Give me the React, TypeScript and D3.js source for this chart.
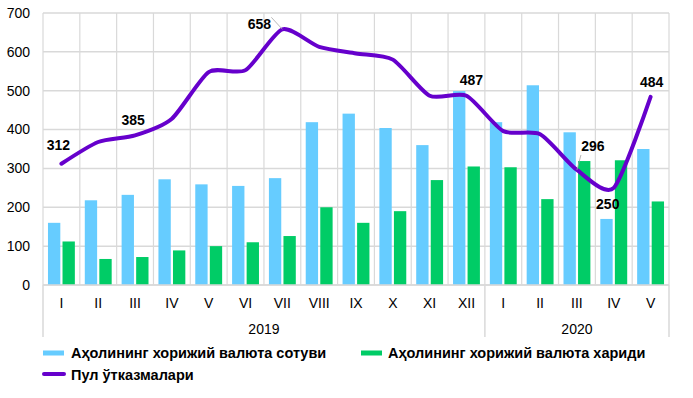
import React from 'react';
import * as d3 from 'd3';

// monthly data, Jan 2019 - May 2020
const months = ['I', 'II', 'III', 'IV', 'V', 'VI', 'VII', 'VIII', 'IX', 'X', 'XI', 'XII', 'I', 'II', 'III', 'IV', 'V'];
const years = [
  { label: '2019', from: 0, to: 12 },
  { label: '2020', from: 12, to: 17 },
];
const sales = [160, 218, 232, 272, 259, 255, 275, 419, 441, 404, 360, 499, 419, 514, 393, 170, 350];
const purchases = [112, 67, 72, 89, 100, 110, 126, 200, 160, 190, 270, 305, 303, 221, 319, 321, 215];
const transfers = [312, 368, 385, 428, 548, 553, 658, 613, 596, 580, 487, 487, 396, 388, 296, 250, 484];
const yTicks = [0, 100, 200, 300, 400, 500, 600, 700];
const seriesNames = ['Аҳолининг хорижий валюта сотуви', 'Аҳолининг хорижий валюта хариди', 'Пул ўтказмалари'];

// which points get a value label, and where the label sits relative to the point
const labelled = [
  { i: 0, dx: -3, dy: -14 },
  { i: 2, dx: -2, dy: -10 },
  { i: 6, dx: -23, dy: 0 },
  { i: 11, dx: 5, dy: -11 },
  { i: 14, dx: 16, dy: -19 },
  { i: 15, dx: -6, dy: 21 },
  { i: 16, dx: 1, dy: -10 },
];

const W = 693;
const H = 398;
const margin = { top: 13, left: 43, right: 24, bottom: 113 };
const font = '"Liberation Sans", Arial, sans-serif';
const blue = '#66CCFF';
const green = '#00CC66';
const purple = '#6600CC';
const grid = '#d9d9d9';

const App = () => {
  const x0 = margin.left;
  const x1 = W - margin.right;
  const yBottom = H - margin.bottom;

  const x = d3.scaleBand<number>()
    .domain(months.map((_, i) => i))
    .range([x0, x1]);

  const y = d3.scaleLinear()
    .domain([0, 700])
    .range([yBottom, margin.top]);

  const step = x.step();
  const barW = step * 0.335;
  const gap = step * 0.06;
  const cx = (i: number) => (x(i) as number) + step / 2;

  const line = d3.line<number>()
    .x((_, i) => cx(i))
    .y(d => y(d))
    .curve(d3.curveCardinal.tension(0.3));

  return (
    <svg width={W} height={H} style={{ position: 'absolute', left: 0, top: 0 }} fontFamily={font}>
      <rect width={W} height={H} fill="#fff" />

      {/* horizontal gridlines */}
      {yTicks.map(t => (
        <line key={t} x1={x0} x2={x1} y1={y(t)} y2={y(t)} stroke={grid} strokeWidth={1.5} />
      ))}
      {/* vertical gridlines between months */}
      {d3.range(months.length + 1).map(i => (
        <line key={i} x1={x0 + i * step} x2={x0 + i * step} y1={margin.top} y2={yBottom} stroke={grid} strokeWidth={1.2} />
      ))}

      {/* y tick labels */}
      {yTicks.map(t => (
        <text key={t} x={30} y={y(t)} dy="0.35em" textAnchor="end" fontSize={14} fill="#000">{t}</text>
      ))}

      {/* bars */}
      {sales.map((v, i) => (
        <rect key={'s' + i} x={cx(i) - gap / 2 - barW} y={y(v)} width={barW} height={yBottom - y(v)} fill={blue} />
      ))}
      {purchases.map((v, i) => (
        <rect key={'p' + i} x={cx(i) + gap / 2} y={y(v)} width={barW} height={yBottom - y(v)} fill={green} />
      ))}

      {/* x axis */}
      <line x1={x0} x2={x1} y1={yBottom} y2={yBottom} stroke={grid} strokeWidth={1.5} />
      {[0, 12, 17].map(i => (
        <line key={i} x1={x0 + i * step} x2={x0 + i * step} y1={yBottom} y2={yBottom + 52} stroke={grid} strokeWidth={1.5} />
      ))}
      {months.map((m, i) => (
        <text key={i} x={cx(i)} y={yBottom + 23} textAnchor="middle" fontSize={14} fill="#000">{m}</text>
      ))}
      {years.map(yr => (
        <text key={yr.label} x={x0 + ((yr.from + yr.to) / 2) * step} y={yBottom + 49} textAnchor="middle" fontSize={14} fill="#000">{yr.label}</text>
      ))}

      {/* transfers line */}
      <path d={line(transfers) ?? ''} fill="none" stroke={purple} strokeWidth={4} strokeLinecap="round" />

      {/* value labels with leader lines */}
      {labelled.map(({ i, dx, dy }) => {
        const px = cx(i);
        const py = y(transfers[i]);
        const lx = px + dx;
        const ly = py + dy;
        return (
          <g key={i}>
            {Math.abs(dx) > 10 && (
              <line x1={px} y1={py} x2={dx < 0 ? lx + 12 : lx - 12} y2={dy < 0 ? ly + 4 : ly - 12} stroke="#a6a6a6" strokeWidth={0.8} />
            )}
            <text x={lx} y={ly} textAnchor="middle" fontSize={14} fontWeight="bold" fill="#000">{transfers[i]}</text>
          </g>
        );
      })}

      {/* legend */}
      <g fontSize={14.5} fontWeight="bold" fill="#000">
        <rect x={43} y={350.5} width={21} height={5} fill={blue} />
        <text x={71} y={353} dy="0.35em">{seriesNames[0]}</text>
        <rect x={361} y={350.5} width={21} height={5} fill={green} />
        <text x={388} y={353} dy="0.35em">{seriesNames[1]}</text>
        <line x1={44} x2={64} y1={374} y2={374} stroke={purple} strokeWidth={4} strokeLinecap="round" />
        <text x={71} y={375} dy="0.35em">{seriesNames[2]}</text>
      </g>
    </svg>
  );
};

export default App;
